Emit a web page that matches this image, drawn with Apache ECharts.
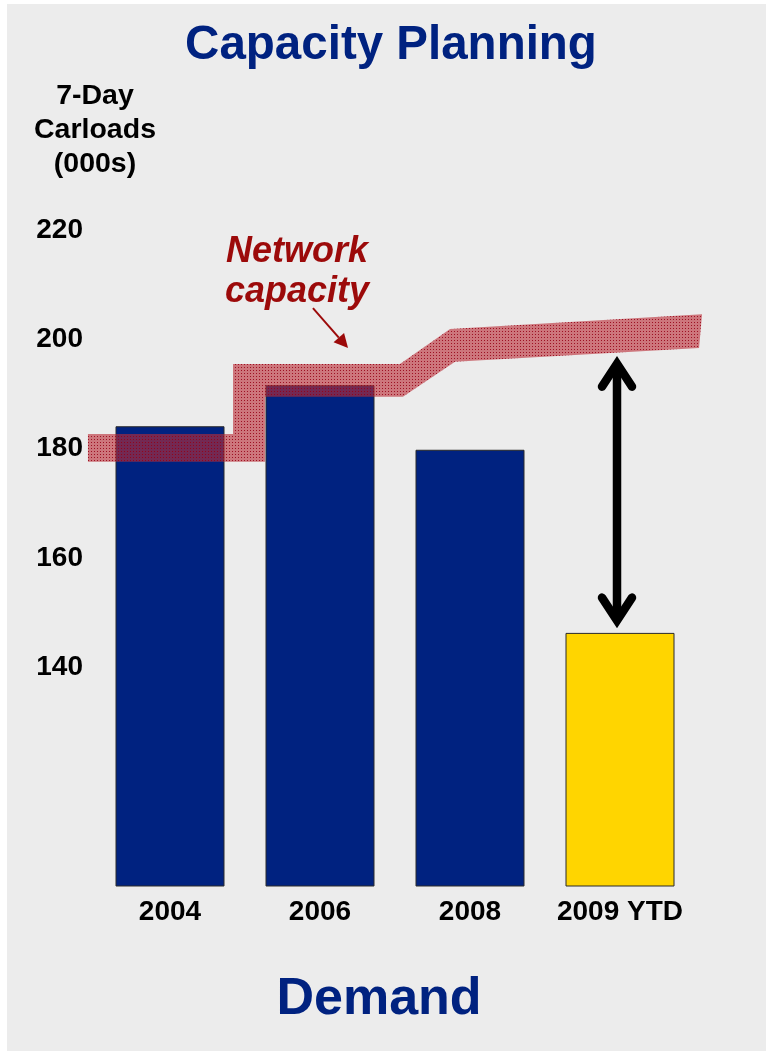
<!DOCTYPE html>
<html>
<head>
<meta charset="utf-8">
<title>Capacity Planning</title>
<script src="https://cdn.jsdelivr.net/npm/echarts@6/dist/echarts.min.js"></script>
<style>
    html, body { margin: 0; padding: 0; background: #fff; }
    #chart { width: 766px; height: 1053px; }
</style>
</head>
<body>
<div id="chart"></div>
<script>
// 7-day carloads (000s) per year
var years = ['2004', '2006', '2008', '2009 YTD'];
var carloads = [184.1, 191.6, 179.8, 146.3];

// y ticks that get a label
var tickLabels = [140, 160, 180, 200, 220];

// network capacity band outline, [x, carloads], x in category units (0..4)
var capacityBand = [
    [-0.047, 182.7], [0.92, 182.7], [0.92, 195.5], [2.033, 195.5], [2.367, 201.9], [4.047, 204.6],
    [4.027, 198.4], [2.4, 195.9], [2.053, 189.5], [1.133, 189.5], [1.133, 177.6], [-0.047, 177.6]
];

// gap arrow: [x, top, bottom]
var gapArrow = [3.48, 197.1, 147.0];

// callout arrow from the label to the band: [x0, y0, x1, y1]
var calloutArrow = [1.453, 205.7, 1.687, 198.4];

var FONT = '"Liberation Sans", Arial, sans-serif';
var NAVY = '#002280';
var DARKRED = '#9c0a0a';

// stippled fill for the band
var tile = document.createElement('canvas');
tile.width = 3;
tile.height = 3;
var tctx = tile.getContext('2d');
tctx.fillStyle = 'rgba(185,45,55,0.62)';
tctx.fillRect(0, 0, 3, 3);
tctx.fillStyle = 'rgba(150,0,20,0.85)';
tctx.fillRect(1, 1, 1, 1);
var bandFill = { image: tile, repeat: 'repeat' };

function renderBand(params, api) {
    if (params.dataIndex !== 0) return null;
    var pts = capacityBand.map(function (p) { return api.coord(p); });
    return {
        type: 'polygon',
        shape: { points: pts },
        style: { fill: bandFill }
    };
}

function renderGapArrow(params, api) {
    var top = api.coord([gapArrow[0], gapArrow[1]]);
    var bot = api.coord([gapArrow[0], gapArrow[2]]);
    var inset = 8.5, armX = 15, armY = 23;
    var x = top[0], t = top[1] + inset, b = bot[1] - inset;
    var headStyle = { stroke: '#000', lineWidth: 8.5, fill: null, lineCap: 'round', lineJoin: 'miter' };
    return {
        type: 'group',
        children: [
            { type: 'line', shape: { x1: x, y1: t, x2: x, y2: b }, style: { stroke: '#000', lineWidth: 8.5 } },
            { type: 'polyline', shape: { points: [[x - armX, t + armY], [x, t], [x + armX, t + armY]] }, style: headStyle },
            { type: 'polyline', shape: { points: [[x - armX, b - armY], [x, b], [x + armX, b - armY]] }, style: headStyle }
        ]
    };
}

function renderCallout(params, api) {
    var p0 = api.coord([calloutArrow[0], calloutArrow[1]]);
    var p1 = api.coord([calloutArrow[2], calloutArrow[3]]);
    var dx = p1[0] - p0[0], dy = p1[1] - p0[1];
    var len = Math.sqrt(dx * dx + dy * dy);
    var ux = dx / len, uy = dy / len;
    var headLen = 14, headHalf = 7;
    var bx = p1[0] - ux * headLen, by = p1[1] - uy * headLen;
    return {
        type: 'group',
        children: [
            { type: 'line', shape: { x1: p0[0], y1: p0[1], x2: bx, y2: by }, style: { stroke: DARKRED, lineWidth: 2 } },
            {
                type: 'polygon',
                shape: { points: [p1, [bx - uy * headHalf, by + ux * headHalf], [bx + uy * headHalf, by - ux * headHalf]] },
                style: { fill: DARKRED }
            }
        ]
    };
}

var chart = echarts.init(document.getElementById('chart'), null, { renderer: 'canvas' });

var option = {
    backgroundColor: '#ffffff',
    animation: false,
    textStyle: { fontFamily: FONT },
    graphic: [
        { type: 'rect', z: -100, silent: true, shape: { x: 7, y: 4, width: 766, height: 1047 }, style: { fill: '#ececec' } },
        {
            type: 'text', x: 391, y: 46,
            style: { text: 'Capacity Planning', fill: NAVY, fontSize: 47.5, fontWeight: 'bold', fontFamily: FONT, align: 'center', verticalAlign: 'middle' }
        },
        {
            type: 'text', x: 297, y: 272.5,
            style: { text: 'Network\ncapacity', fill: DARKRED, fontSize: 36, fontWeight: 'bold', fontStyle: 'italic', fontFamily: FONT, lineHeight: 40, align: 'center', verticalAlign: 'middle' }
        },
        {
            type: 'text', x: 379, y: 999.5,
            style: { text: 'Demand', fill: NAVY, fontSize: 52, fontWeight: 'bold', fontFamily: FONT, align: 'center', verticalAlign: 'middle' }
        }
    ],
    grid: { left: 95, top: 230, width: 600, height: 656 },
    xAxis: [
        {
            type: 'category',
            data: years,
            axisLine: { show: false },
            axisTick: { show: false },
            axisLabel: { interval: 0, hideOverlap: false, fontSize: 28, fontWeight: 'bold', color: '#000', margin: 12, fontFamily: FONT }
        },
        {
            type: 'value',
            min: 0,
            max: 4,
            show: false
        }
    ],
    yAxis: {
        type: 'value',
        min: 100,
        max: 220,
        interval: 20,
        name: '7-Day\nCarloads\n(000s)',
        nameLocation: 'end',
        nameGap: 49,
        nameTextStyle: { fontSize: 28.5, fontWeight: 'bold', color: '#000', lineHeight: 34, fontFamily: FONT, align: 'center' },
        axisLine: { show: false },
        axisTick: { show: false },
        splitLine: { show: false },
        axisLabel: {
            fontSize: 28, fontWeight: 'bold', color: '#000', margin: 12, fontFamily: FONT,
            formatter: function (v) { return tickLabels.indexOf(v) >= 0 ? String(v) : ''; }
        }
    },
    series: [
        {
            type: 'bar',
            data: carloads,
            barWidth: 109,
            itemStyle: {
                color: function (p) { return p.dataIndex === 3 ? '#ffd500' : NAVY; },
                borderColor: '#2a2a2a',
                borderWidth: 1
            },
            z: 2
        },
        {
            type: 'custom',
            xAxisIndex: 1,
            data: capacityBand,
            renderItem: renderBand,
            z: 3,
            silent: true
        },
        {
            type: 'custom',
            xAxisIndex: 1,
            data: [gapArrow],
            renderItem: renderGapArrow,
            z: 4,
            silent: true
        },
        {
            type: 'custom',
            xAxisIndex: 1,
            data: [calloutArrow],
            renderItem: renderCallout,
            z: 4,
            silent: true
        }
    ]
};

if (option && typeof option === 'object') {
    chart.setOption(option);
}

window.addEventListener('resize', chart.resize);
</script>
</body>
</html>
